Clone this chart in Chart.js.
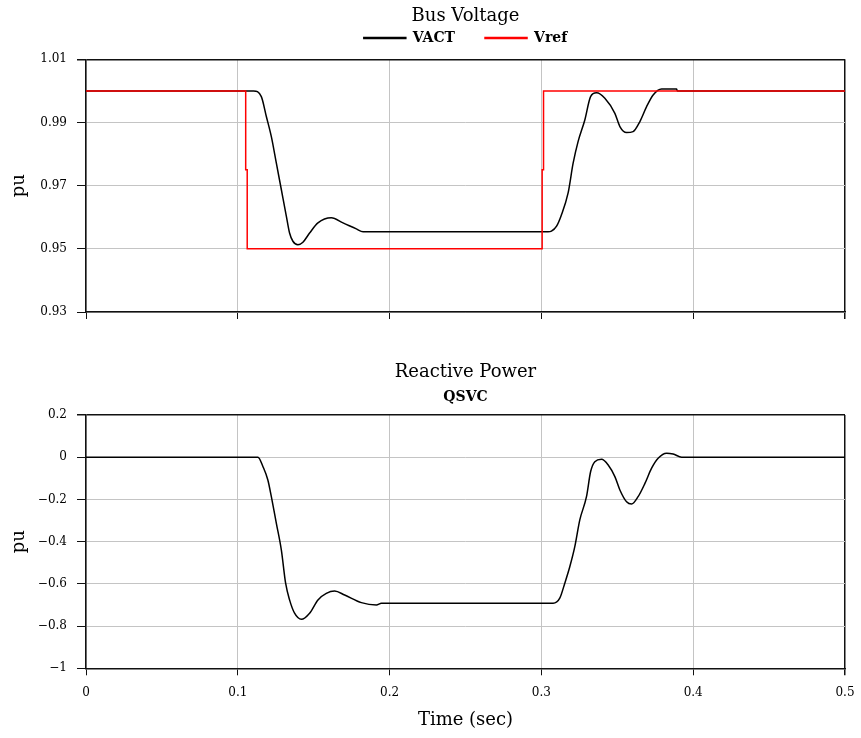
<!DOCTYPE html>
<html lang="en">
<head>
    <meta charset="UTF-8">
    <title>Bus Voltage / Reactive Power</title>
    <script src="https://cdn.jsdelivr.net/npm/chart.js"></script>
    <style>
        html, body { margin: 0; padding: 0; background: #fff; }
        .panel { position: absolute; left: 0; width: 861px; }
        #top { top: 0; height: 330px; }
        #bottom { top: 330px; height: 408px; }
    </style>
</head>
<body>
    <div id="top" class="panel"><canvas id="voltageChart" width="861" height="330"></canvas></div>
    <div id="bottom" class="panel"><canvas id="powerChart" width="861" height="408"></canvas></div>

<script>
// ---- data ----
const xTicks = [0, 0.1, 0.2, 0.3, 0.4, 0.5];
const voltageTicks = [0.93, 0.95, 0.97, 0.99, 1.01];
const powerTicks = [-1, -0.8, -0.6, -0.4, -0.2, 0, 0.2];

const vactTime = [0, 0.1104, 0.1155, 0.1188, 0.1221, 0.1254, 0.1287, 0.1320, 0.1341, 0.1363,
    0.1396, 0.1429, 0.1473, 0.1528, 0.1616, 0.1693, 0.1781, 0.1825, 0.3044, 0.3066,
    0.3100, 0.3130, 0.3176, 0.3209, 0.3242, 0.3286, 0.3324, 0.3363, 0.3418, 0.3484,
    0.3517, 0.3561, 0.3604, 0.3649, 0.3693, 0.3736, 0.3792, 0.3890, 0.3896, 0.5];
const vactValues = [1.0, 1.0, 0.9982, 0.9919, 0.9855, 0.9771, 0.9687, 0.9603, 0.9550, 0.9524,
    0.9513, 0.9521, 0.9550, 0.9582, 0.9598, 0.9582, 0.9563, 0.9554, 0.9554, 0.9556,
    0.9572, 0.9605, 0.9677, 0.9771, 0.9840, 0.9908, 0.9982, 0.9994, 0.9977, 0.9929,
    0.9887, 0.9868, 0.9871, 0.9903, 0.9950, 0.9987, 1.0006, 1.0006, 1.0, 1.0];

const vrefTime = [0, 0.1052, 0.1052, 0.1062, 0.1062, 0.3005, 0.3005, 0.3014, 0.3014, 0.5];
const vrefValues = [1.0, 1.0, 0.975, 0.975, 0.95, 0.95, 0.975, 0.975, 1.0, 1.0];

const qTime = [0, 0.1133, 0.1166, 0.1198, 0.1221, 0.1254, 0.1287, 0.1315, 0.1341, 0.1374,
    0.1419, 0.1473, 0.1528, 0.1583, 0.1638, 0.1704, 0.1814, 0.1913, 0.1946, 0.3077,
    0.3121, 0.3154, 0.3187, 0.3220, 0.3253, 0.3297, 0.3324, 0.3352, 0.3396, 0.3440,
    0.3484, 0.3517, 0.3561, 0.3594, 0.3637, 0.3682, 0.3726, 0.3769, 0.3825, 0.3868,
    0.3924, 0.5];
const qValues = [0, 0, -0.045, -0.108, -0.187, -0.313, -0.44, -0.597, -0.676, -0.739,
    -0.768, -0.739, -0.676, -0.645, -0.634, -0.653, -0.689, -0.700, -0.692, -0.692,
    -0.668, -0.597, -0.519, -0.424, -0.297, -0.187, -0.069, -0.021, -0.010, -0.037,
    -0.092, -0.155, -0.211, -0.222, -0.187, -0.124, -0.052, -0.005, 0.019, 0.015,
    0, 0];

const toPoints = (xs, ys) => xs.map((x, i) => ({ x: x, y: ys[i] }));

Chart.defaults.font.family = "'DejaVu Serif', serif";
Chart.defaults.color = '#000';
Chart.defaults.animation = false;

const GRID = '#c4c4c4';
const AXIS = '#111';

// last gridline of each axis doubles as the plot frame (top / right)
function gridColor(c) {
    return c.index === c.scale.ticks.length - 1 ? AXIS : GRID;
}
function gridWidth(c) {
    return c.index === c.scale.ticks.length - 1 ? 1.5 : 1;
}
function fmt(v) {
    return String(Number(v.toFixed(2))).replace('-', '\u2212');
}

// a little extra room between the legend and the plot
const legendGap = {
    id: 'legendGap',
    beforeInit(chart) {
        const fit = chart.legend.fit;
        chart.legend.fit = function () {
            fit.call(this);
            this.height += 4.3;
        };
    }
};

function xAxis(height, showLabels, withTitle) {
    return {
        type: 'linear',
        min: xTicks[0],
        max: xTicks[xTicks.length - 1],
        afterBuildTicks: s => { s.ticks = xTicks.map(v => ({ value: v })); },
        afterFit: s => {
            s.height = height;
            // keep both plots the same width; layout padding leaves room for "0.5"
            s.paddingLeft = 0;
            s.paddingRight = 0;
        },
        grid: { color: gridColor, lineWidth: gridWidth, tickColor: AXIS, tickLength: 7 },
        border: { color: AXIS, width: 1.5 },
        ticks: { display: showLabels, padding: 10, font: { size: 12 }, callback: v => fmt(v) },
        title: {
            display: withTitle,
            text: 'Time (sec)',
            font: { size: 18 },
            padding: { top: 0, bottom: 7 }
        }
    };
}

function yAxis(ticks) {
    return {
        min: ticks[0],
        max: ticks[ticks.length - 1],
        afterBuildTicks: s => { s.ticks = ticks.map(v => ({ value: v })); },
        afterFit: s => { s.width = 86; },
        grid: { color: gridColor, lineWidth: gridWidth, tickColor: AXIS, tickLength: 9 },
        border: { color: AXIS, width: 1.5 },
        ticks: { padding: 10, font: { size: 12 }, callback: v => fmt(v) },
        title: { display: true, text: 'pu', font: { size: 18 }, padding: { top: 9, bottom: 0 } }
    };
}

// Bus Voltage
new Chart(document.getElementById('voltageChart'), {
    type: 'line',
    data: {
        datasets: [
            {
                label: 'VACT',
                data: toPoints(vactTime, vactValues),
                borderColor: '#000',
                backgroundColor: '#000',
                borderWidth: 1.5,
                pointRadius: 0,
                cubicInterpolationMode: 'monotone',
                order: 1
            },
            {
                label: 'Vref',
                data: toPoints(vrefTime, vrefValues),
                borderColor: '#ff0000',
                backgroundColor: '#ff0000',
                borderWidth: 1.5,
                pointRadius: 0,
                tension: 0,
                order: 0
            }
        ]
    },
    options: {
        responsive: false,
        layout: { padding: { left: 0, right: 16, top: 0, bottom: 0 } },
        plugins: {
            title: {
                display: true,
                text: 'Bus Voltage',
                fullSize: false,
                font: { size: 18, weight: 'normal' },
                padding: { top: 6, bottom: -26.6 }
            },
            legend: {
                display: true,
                fullSize: false,
                labels: {
                    boxWidth: 42,
                    boxHeight: 1,
                    padding: 30,
                    font: { size: 14, weight: 'bold' },
                    sort: (a, b) => a.datasetIndex - b.datasetIndex
                }
            },
            tooltip: { enabled: false }
        },
        scales: {
            x: xAxis(18, false, false),
            y: yAxis(voltageTicks)
        }
    },
    plugins: [legendGap]
});

// Reactive Power
new Chart(document.getElementById('powerChart'), {
    type: 'line',
    data: {
        datasets: [
            {
                label: 'QSVC',
                data: toPoints(qTime, qValues),
                borderColor: '#000',
                borderWidth: 1.5,
                pointRadius: 0,
                cubicInterpolationMode: 'monotone'
            }
        ]
    },
    options: {
        responsive: false,
        layout: { padding: { left: 0, right: 16, top: 0, bottom: 0 } },
        plugins: {
            title: {
                display: true,
                text: 'Reactive Power',
                fullSize: false,
                font: { size: 18, weight: 'normal' },
                padding: { top: 31.5, bottom: 0 }
            },
            subtitle: {
                display: true,
                text: 'QSVC',
                fullSize: false,
                font: { size: 14, weight: 'bold' },
                padding: { top: 5.7, bottom: 9.4 }
            },
            legend: { display: false },
            tooltip: { enabled: false }
        },
        scales: {
            x: xAxis(69.7, true, true),
            y: yAxis(powerTicks)
        }
    }
});
</script>
</body>
</html>
